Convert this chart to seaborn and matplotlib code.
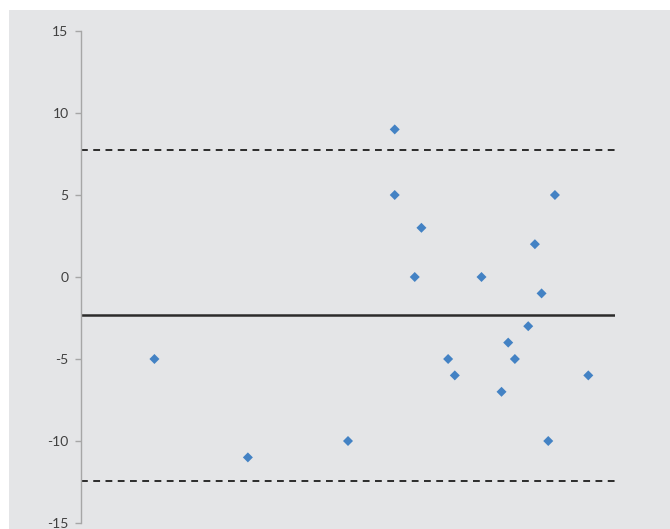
import matplotlib
matplotlib.use("Agg")
import matplotlib.pyplot as plt
import seaborn as sns
import pandas as pd
from matplotlib.patches import Rectangle

# Bland-Altman data: mean of the two methods vs. their difference
means = [11, 25, 40, 47, 47, 51, 50, 55, 56, 60, 63, 64, 65, 67, 68, 69, 70, 71, 76]
diffs = [-5, -11, -10, 9, 5, 3, 0, -5, -6, 0, -7, -4, -5, -3, 2, -1, -10, 5, -6]
bias = -2.33
upper_loa = 7.75
lower_loa = -12.41
yticks = [-15, -10, -5, 0, 5, 10, 15]

df = pd.DataFrame({"mean": means, "diff": diffs})

sns.set_style("white")
plt.rcParams["font.family"] = ["Lato", "DejaVu Sans"]
fig = plt.figure(figsize=(6.7, 5.29), dpi=100)
fig.patch.set_facecolor("white")
# grey panel behind the plot
fig.patches.append(Rectangle((9 / 670, 0), 1, 1 - 10 / 529, transform=fig.transFigure,
                             facecolor="#e4e5e7", edgecolor="none", zorder=-10))

ax = fig.add_axes([81 / 670, 1 - 523 / 529, (615 - 81) / 670, (523 - 31) / 529])
ax.set_facecolor("none")

ax.axhline(upper_loa, color="#2b2b2b", lw=1.4, ls=(0, (3.5, 2.8)), zorder=1)
ax.axhline(lower_loa, color="#2b2b2b", lw=1.4, ls=(0, (3.5, 2.8)), zorder=1)
ax.axhline(bias, color="#2b2b2b", lw=1.8, zorder=1)

sns.scatterplot(data=df, x="mean", y="diff", marker="D", s=26, color="#4382c4",
                edgecolor="none", ax=ax, zorder=3, legend=False)

ax.set_xlim(0, 80)
ax.set_ylim(-15, 15)
ax.set_yticks(yticks)
ax.set_yticklabels([str(t) for t in yticks], va="center_baseline")
ax.set_xticks([])
ax.set_xlabel("")
ax.set_ylabel("")
for side in ["top", "right", "bottom"]:
    ax.spines[side].set_visible(False)
ax.spines["left"].set_color("#a6a6a6")
ax.spines["left"].set_linewidth(1.0)
ax.tick_params(axis="y", direction="out", length=4, width=1, color="#a6a6a6",
               labelsize=10, labelcolor="#404040", pad=5, left=True)

fig.savefig("out.png", dpi=100)
